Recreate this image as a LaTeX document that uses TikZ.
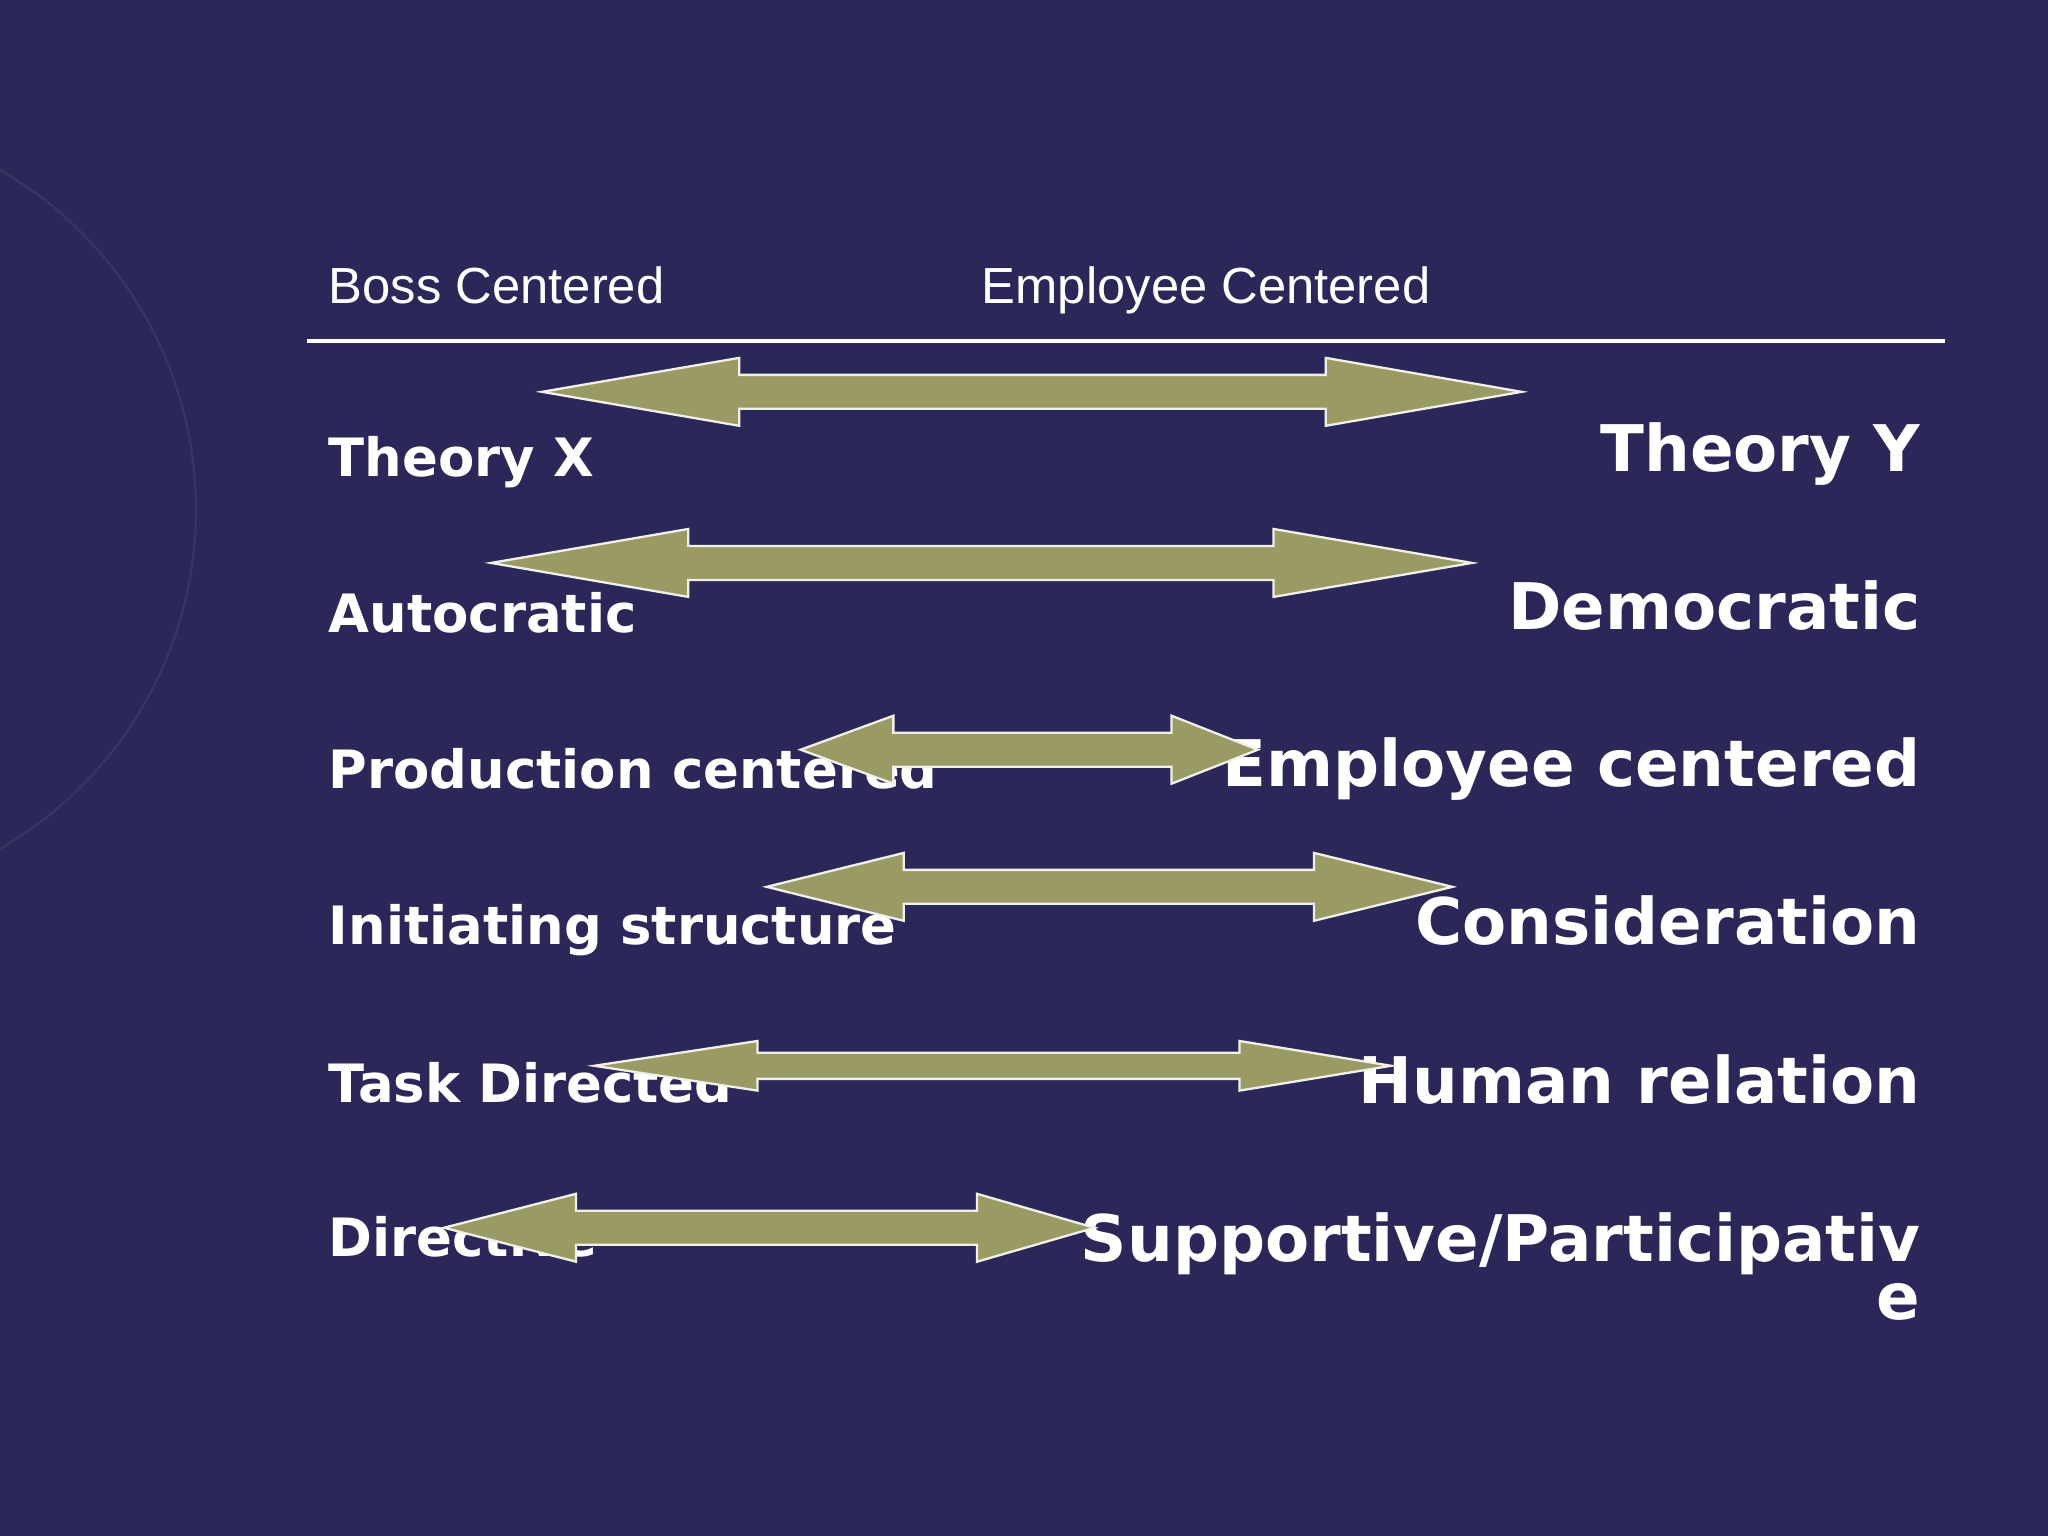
\documentclass[tikz,border=0pt]{standalone}
\usepackage{fontspec}
\setmainfont{DejaVu Sans}
\newfontfamily\hdr{Liberation Sans}
\definecolor{bg}{HTML}{2B2859}
\definecolor{olive}{HTML}{9A9A64}
\newcommand\dblarr[7]{% tipL, baseL, baseR, tipR, y, headhalf, shafthalf
 \fill[olive,draw=white!85!olive,line width=0.5pt] (#1,-#5) -- (#2,-#5+#6) -- (#2,-#5+#7) -- (#3,-#5+#7) -- (#3,-#5+#6) -- (#4,-#5) -- (#3,-#5-#6) -- (#3,-#5-#7) -- (#2,-#5-#7) -- (#2,-#5-#6) -- cycle;}
\begin{document}
\begin{tikzpicture}[x=0.01cm,y=0.01cm,
 lab/.style={text=white,font=\bfseries\fontsize{11.5}{13}\selectfont,inner sep=0},
 rlab/.style={text=white,font=\bfseries\fontsize{14}{16}\selectfont,inner sep=0},
 hd/.style={text=white,font=\hdr\fontsize{11.05}{13}\selectfont,inner sep=0}]
\fill[bg] (0,0) rectangle (1568,-1176);
\useasboundingbox (0,0) rectangle (1568,-1176);
\begin{scope}
\clip (0,0) rectangle (1568,-1176);
\draw[white!6!bg,line width=0.5pt] (-150,-390) circle (300);
\end{scope}
\node[hd,anchor=base west] (h1) at (251,-232) {Boss Centered};
\node[hd,anchor=base west] (h2) at (751,-232) {Employee Centered};
\draw[white,line width=0.8pt] (235,-261) -- (1489,-261);
\node[lab,anchor=base west] (l1) at (251,-365) {Theory X};
\node[lab,anchor=base west] (l2) at (251,-484) {Autocratic};
\node[lab,anchor=base west] (l3) at (251,-604) {Production centered};
\node[lab,anchor=base west] (l4) at (251,-723) {Initiating structure};
\node[lab,anchor=base west] (l5) at (251,-844) {Task Directed};
\node[lab,anchor=base west] (l6) at (251,-962) {Directive};
\node[rlab,anchor=base east] (r1) at (1471,-361) {Theory Y};
\node[rlab,anchor=base east] (r2) at (1471,-482) {Democratic};
\node[rlab,anchor=base east] (r3) at (1471,-602) {Employee centered};
\node[rlab,anchor=base east] (r4) at (1471,-723) {Consideration};
\node[rlab,anchor=base east] (r5) at (1471,-845) {Human relation};
\node[rlab,anchor=base east] (r6) at (1471,-966) {Supportive/Participativ};
\node[rlab,anchor=base east] (r7) at (1471,-1010) {e};
\dblarr{415}{566}{1015}{1165}{300}{26}{13}
\dblarr{376}{527}{975}{1127}{431}{26}{13}
\dblarr{613}{684}{897}{963}{574}{26}{13}
\dblarr{587}{692}{1006}{1112}{679}{26}{13}
\dblarr{455}{580}{949}{1065}{816}{19}{10}
\dblarr{340}{441}{748}{838}{940}{26}{13}
\end{tikzpicture}
\end{document}
